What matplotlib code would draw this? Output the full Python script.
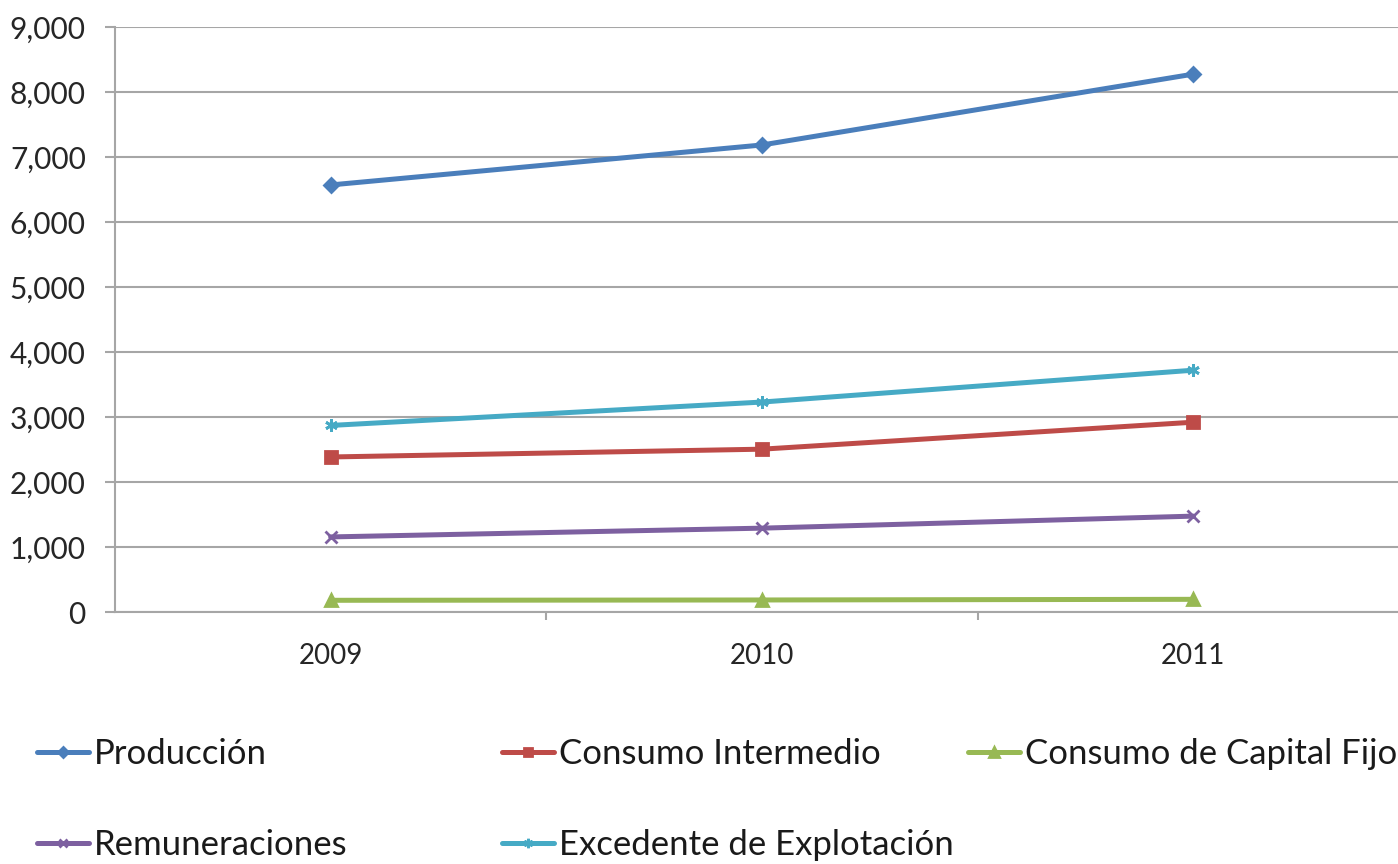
import matplotlib
matplotlib.use("Agg")
import matplotlib.pyplot as plt
from matplotlib.ticker import FuncFormatter, MultipleLocator, FixedLocator

# Data
years = ["2009", "2010", "2011"]
produccion = [6570, 7185, 8275]
consumo_intermedio = [2385, 2505, 2920]
consumo_capital_fijo = [180, 185, 195]
remuneraciones = [1155, 1290, 1475]
excedente = [2870, 3230, 3720]

series = [
    ("Producción", produccion, "#4A7EBB", "D", 7),
    ("Consumo Intermedio", consumo_intermedio, "#BE4B48", "s", 8),
    ("Consumo de Capital Fijo", consumo_capital_fijo, "#98B954", "^", 9),
    ("Remuneraciones", remuneraciones, "#7D60A0", "x", 8),
    ("Excedente de Explotación", excedente, "#46AAC5", (6, 2, 0), 9),
]

plt.rcParams["font.family"] = ["Lato", "DejaVu Sans"]

W, H = 1398, 864
fig = plt.figure(figsize=(W / 100, H / 100), dpi=100)
ax = fig.add_axes([115 / W, 1 - 612 / H, (1409 - 115) / W, (612 - 27) / H])

x = list(range(len(years)))
handles = {}
for name, vals, color, marker, ms in series:
    (ln,) = ax.plot(x, vals, color=color, lw=3.6, marker=marker, ms=ms,
                    mec=color, mfc=color, mew=2.0, solid_capstyle="round",
                    label=name, zorder=3)
    handles[name] = ln

ax.set_xlim(-0.5, 2.5)
ax.set_ylim(0, 9000)

grid_c = "#A6A6A6"
ax.yaxis.set_major_locator(MultipleLocator(1000))
ax.yaxis.set_major_formatter(FuncFormatter(lambda v, p: f"{int(v):,}"))
ax.grid(axis="y", color=grid_c, lw=1.5, zorder=0)
ax.set_axisbelow(True)

ax.set_xticks(x)
ax.set_xticklabels(years)
ax.xaxis.set_minor_locator(FixedLocator([0.5, 1.5, 2.5]))
ax.tick_params(axis="x", which="major", length=0, pad=22, labelsize=20, labelcolor="#262626")
ax.tick_params(axis="x", which="minor", length=6, width=1.5, color=grid_c, direction="out")
ax.tick_params(axis="y", length=7, width=1.5, color=grid_c, pad=14, labelsize=21.5, labelcolor="#262626")

for s in ["top", "right"]:
    ax.spines[s].set_visible(False)
for s in ["left", "bottom"]:
    ax.spines[s].set_color(grid_c)
    ax.spines[s].set_linewidth(1.5)

# Legend arranged in three columns, two rows
columns = [
    (37, ["Producción", "Remuneraciones"]),
    (502, ["Consumo Intermedio", "Excedente de Explotación"]),
    (968, ["Consumo de Capital Fijo"]),
]
for xpix, names in columns:
    leg = fig.legend([handles[n] for n in names], names, loc="upper left",
                     bbox_to_anchor=(xpix / W, 1 - 738 / H), frameon=False,
                     fontsize=25, handlelength=1.5, handletextpad=0.15,
                     borderpad=0, borderaxespad=0, labelspacing=1.7,
                     markerscale=0.75)
    for t in leg.get_texts():
        t.set_color("#1A1A1A")

fig.savefig("out.png", dpi=100)
